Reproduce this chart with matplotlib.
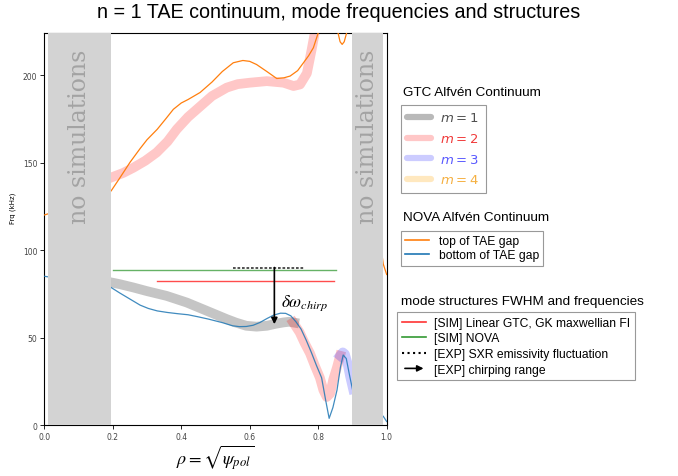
import numpy as np
import matplotlib
matplotlib.use('Agg')
import matplotlib.pyplot as plt
from matplotlib.lines import Line2D
from matplotlib.patches import FancyArrowPatch
from matplotlib.legend_handler import HandlerBase

# ---- data ----
# NOVA continuum, top of TAE gap
nova_top_x = [0.0, 0.1, 0.195, 0.22, 0.25, 0.28, 0.30, 0.33, 0.355, 0.377, 0.40, 0.42, 0.455,
              0.49, 0.52, 0.552, 0.58, 0.60, 0.62, 0.65, 0.679, 0.70, 0.718, 0.74, 0.757,
              0.772, 0.786, 0.80, 0.83, 0.858, 0.864, 0.870, 0.876, 0.883, 0.90, 0.95, 0.99, 1.0]
nova_top_y = [120, 126, 133.7, 141, 150, 158, 163, 169, 175, 180.4, 184, 186, 190,
              196, 202, 207, 208.3, 207.8, 206, 202, 198, 198.4, 199.4, 202.5, 207,
              211, 215.6, 224, 250, 224, 219, 217.5, 219, 224, 250, 150, 92, 86]

# NOVA continuum, bottom of TAE gap
nova_bot_x = [0.0, 0.1, 0.195, 0.22, 0.25, 0.28, 0.304, 0.33, 0.36, 0.39, 0.42, 0.45, 0.48,
              0.52, 0.55, 0.57, 0.59, 0.61, 0.63, 0.65, 0.67, 0.69, 0.705, 0.72, 0.735,
              0.75, 0.765, 0.78, 0.795, 0.81, 0.822, 0.832, 0.843, 0.855, 0.865, 0.873,
              0.882, 0.892, 0.902, 0.95, 0.99, 1.0]
nova_bot_y = [85, 82, 78.6, 75.5, 72, 68.5, 66.6, 65.2, 64.3, 63.6, 63, 61.8, 60.5,
              58.5, 56.7, 56.2, 56.3, 57, 58.6, 60.8, 62.8, 63.9, 63.8, 62.4, 59,
              54.8, 48.5, 41.5, 34, 27, 14, 3.8, 10, 20, 33, 40,
              38, 28, 18.7, 10, 5, 2]

# GTC continuum pieces
m1_x = [0.195, 0.22, 0.26, 0.30, 0.357, 0.416, 0.474, 0.533, 0.56, 0.59, 0.62, 0.65,
        0.675, 0.698, 0.715, 0.73]
m1_y = [81.5, 80.5, 78.6, 76.5, 73.8, 70, 65.3, 60.5, 58.5, 56.7, 56.2, 56.7,
        57.8, 58.6, 59, 58.5]

m2_low_x = [0.727, 0.746, 0.76, 0.776, 0.79, 0.805, 0.815, 0.825, 0.835, 0.844, 0.855, 0.864]
m2_low_y = [58.6, 52.9, 47, 41, 34, 27, 20, 16, 18, 26, 33, 39.6]

m2_up_x = [0.195, 0.23, 0.26, 0.295, 0.328, 0.36, 0.387, 0.42, 0.455, 0.49, 0.533, 0.565,
           0.60, 0.65, 0.699, 0.728, 0.747, 0.767, 0.781, 0.79, 0.80]
m2_up_y = [141.4, 144, 147, 151, 155.7, 162, 169, 176, 182, 188, 192.8, 194.8,
           195.6, 196.5, 195.6, 193.7, 194.6, 201, 214.6, 224, 240]

m3_x = [0.864, 0.872, 0.878, 0.886, 0.893, 0.902]
m3_y = [39.6, 41.5, 40.5, 35, 28, 20.5]

# mode structure FWHM / frequencies
gtc_fwhm_x = [0.328, 0.847]
gtc_freq = 82.4
nova_fwhm_x = [0.2, 0.853]
nova_freq = 88.5
sxr_x = [0.552, 0.761]
sxr_freq = 90
chirp_x = 0.672
chirp_top = 90
chirp_bottom = 57.6

no_sim_left = (0.01, 0.195)
no_sim_right = (0.9, 0.99)

m_labels = ['$m=1$', '$m=2$', '$m=3$', '$m=4$']


class ArrowHandler(HandlerBase):
    def create_artists(self, legend, orig_handle, xdescent, ydescent, width, height, fontsize, trans):
        y = height / 2 - ydescent
        a = FancyArrowPatch((-xdescent, y), (width - xdescent, y), arrowstyle='-|>',
                            mutation_scale=9, color='k', lw=1.2, transform=trans)
        return [a]


fig = plt.figure(figsize=(6.78, 4.77), dpi=100)
ax = fig.add_axes([0.0653, 0.1069, 0.505, 0.8218])

band_lw = 7
ax.plot(m1_x, m1_y, color='gray', alpha=0.45, lw=band_lw, zorder=2)
ax.plot(m2_low_x, m2_low_y, color='red', alpha=0.22, lw=band_lw, zorder=2)
ax.plot(m2_up_x, m2_up_y, color='red', alpha=0.22, lw=band_lw, zorder=2)
ax.plot(m3_x, m3_y, color='blue', alpha=0.2, lw=band_lw, zorder=2)

ax.plot(nova_top_x, nova_top_y, color='tab:orange', lw=0.9, zorder=3)
ax.plot(nova_bot_x, nova_bot_y, color='tab:blue', lw=0.9, alpha=0.85, zorder=3)

ax.plot(gtc_fwhm_x, [gtc_freq, gtc_freq], color='red', alpha=0.7, lw=1.0, zorder=3)
ax.plot(nova_fwhm_x, [nova_freq, nova_freq], color='green', alpha=0.6, lw=1.0, zorder=3)
ax.plot(sxr_x, [sxr_freq, sxr_freq], color='#333333', lw=1.2, linestyle=(0, (1.6, 1.1)), zorder=3)
ax.annotate('', xy=(chirp_x, chirp_bottom), xytext=(chirp_x, chirp_top),
            arrowprops=dict(arrowstyle='-|>', color='k', lw=1.2, mutation_scale=9,
                            shrinkA=0, shrinkB=0), zorder=6)
ax.text(chirp_x + 0.018, 70, r'$\delta\omega_{chirp}$', fontsize=12.5, va='center',
        math_fontfamily='stix')

# shaded "no simulations" regions
for lo, hi in [no_sim_left, no_sim_right]:
    ax.axvspan(lo, hi, color='lightgray', zorder=4, lw=0)
    ax.text((lo + hi) / 2, 165, 'no simulations', rotation=90, ha='center', va='center',
            fontsize=17, family='DejaVu Serif', color='#a3a3a3', zorder=5)

ax.set_xlim(0, 1)
ax.set_ylim(0, 224)
ax.set_xticks([0.0, 0.2, 0.4, 0.6, 0.8, 1.0])
ax.set_yticks([0, 50, 100, 150, 200])
ax.tick_params(labelsize=5.5, length=3, width=0.6, labelcolor='#444444', pad=2)
for s in ax.spines.values():
    s.set_linewidth(0.8)
ax.set_ylabel('Frq (kHz)', fontsize=5)
ax.yaxis.set_label_coords(-0.083, 0.556)
ax.set_xlabel(r'$\rho = \sqrt{\psi_{pol}}$', fontsize=13, math_fontfamily='stix', labelpad=1)

fig.suptitle('n = 1 TAE continuum, mode frequencies and structures', family='Liberation Sans',
             fontsize=14.2, y=0.973, va='center')

# legends
leg_font = {'family': 'Liberation Sans', 'size': 8.7}

h1 = [Line2D([], [], color='gray', alpha=0.55, lw=4.5, solid_capstyle='round'),
      Line2D([], [], color='red', alpha=0.22, lw=4.5, solid_capstyle='round'),
      Line2D([], [], color='blue', alpha=0.2, lw=4.5, solid_capstyle='round'),
      Line2D([], [], color='orange', alpha=0.25, lw=4.5, solid_capstyle='round')]
leg1 = fig.legend(h1, m_labels, loc='upper left', bbox_to_anchor=(0.591, 0.778),
                  bbox_transform=fig.transFigure, borderaxespad=0, fancybox=False,
                  edgecolor='#999999', framealpha=1, fontsize=9.5, handlelength=1.8,
                  handletextpad=0.7, labelspacing=0.58, borderpad=0.5,
                  labelcolor=['#505050', '#f03a3a', '#5a5aff', '#f5b041'])
leg1.get_frame().set_linewidth(0.8)

h2 = [Line2D([], [], color='tab:orange', lw=1.2), Line2D([], [], color='tab:blue', lw=1.2)]
leg2 = fig.legend(h2, ['top of TAE gap', 'bottom of TAE gap'], loc='upper left',
                  bbox_to_anchor=(0.591, 0.514), bbox_transform=fig.transFigure,
                  borderaxespad=0, fancybox=False, edgecolor='#999999', framealpha=1,
                  prop=leg_font, handlelength=2.0, handletextpad=0.8, labelspacing=0.2,
                  borderpad=0.35)
leg2.get_frame().set_linewidth(0.8)

arrow_handle = FancyArrowPatch((0, 0), (1, 0))
h3 = [Line2D([], [], color='red', alpha=0.8, lw=1.2),
      Line2D([], [], color='green', alpha=0.8, lw=1.2),
      Line2D([], [], color='k', lw=1.5, linestyle=':'),
      arrow_handle]
leg3 = fig.legend(h3, ['[SIM] Linear GTC, GK maxwellian FI', '[SIM] NOVA',
                       '[EXP] SXR emissivity fluctuation', '[EXP] chirping range'],
                  loc='upper left', bbox_to_anchor=(0.586, 0.344), bbox_transform=fig.transFigure,
                  borderaxespad=0, fancybox=False, edgecolor='#999999', framealpha=1,
                  prop=leg_font, handlelength=2.0, handletextpad=0.6, labelspacing=0.3,
                  handler_map={arrow_handle: ArrowHandler()})
leg3.get_frame().set_linewidth(0.8)

fig.text(0.594, 0.805, 'GTC Alfvén Continuum', family='Liberation Sans', fontsize=9.7, va='center')
fig.text(0.594, 0.543, 'NOVA Alfvén Continuum', family='Liberation Sans', fontsize=9.7, va='center')
fig.text(0.591, 0.3675, 'mode structures FWHM and frequencies', family='Liberation Sans',
         fontsize=9.7, va='center')

fig.savefig('out.png', dpi=100)
